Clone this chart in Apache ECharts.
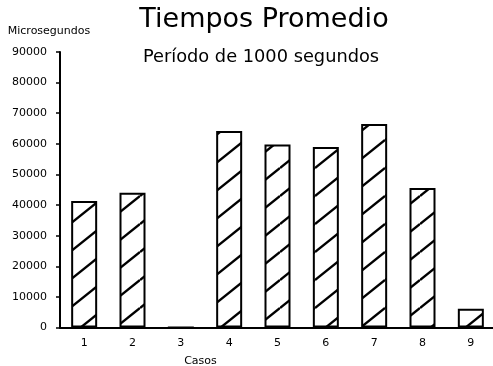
<!DOCTYPE html>
<html>
<head>
<meta charset="utf-8">
<script src="https://cdn.jsdelivr.net/npm/echarts@6/dist/echarts.min.js"></script>
<style>
html,body{margin:0;padding:0;background:#fff;}
#chart{width:493px;height:366px;}
</style>
</head>
<body>
<div id="chart"></div>
<script>
// ---- data ----
var categories = ['1', '2', '3', '4', '5', '6', '7', '8', '9'];
var tiempos = [41300, 44000, 0, 64200, 59800, 59000, 66500, 45600, 6100];
var yTicks = [0, 10000, 20000, 30000, 40000, 50000, 60000, 70000, 80000, 90000];
var titleText = 'Tiempos Promedio';
var subtitleText = 'Período de 1000 segundos';
var yName = 'Microsegundos';
var xName = 'Casos';

// hatch tile
function makeHatch() {
  var W = 35, H = 28;
  var c = document.createElement('canvas');
  c.width = W; c.height = H;
  var ctx = c.getContext('2d');
  ctx.fillStyle = '#fff';
  ctx.fillRect(0, 0, W, H);
  ctx.strokeStyle = '#000';
  ctx.lineWidth = 2.4;
  [-H, 0, H].forEach(function (off) {
    ctx.beginPath();
    ctx.moveTo(0, H + off);
    ctx.lineTo(W, 0 + off);
    ctx.stroke();
  });
  return c;
}

var font = 'DejaVu Sans';
var chart = echarts.init(document.getElementById('chart'), null, {renderer: 'canvas'});
chart.setOption({
  backgroundColor: '#fff',
  animation: false,
  title: [
    {text: titleText, left: 259, top: 1, textAlign: 'center',
     textStyle: {fontFamily: font, fontSize: 27, fontWeight: 'normal', color: '#000'}},
    {text: subtitleText, left: 256, top: 43, textAlign: 'center',
     textStyle: {fontFamily: font, fontSize: 17.8, fontWeight: 'normal', color: '#000'}}
  ],
  grid: {left: 60, top: 52, width: 435, height: 275.5, containLabel: false, outerBoundsMode: 'none'},
  xAxis: {
    type: 'category',
    data: categories,
    name: xName,
    nameLocation: 'middle',
    nameGap: 28,
    nameTextStyle: {fontFamily: font, fontSize: 11, color: '#000', padding: [0, 154, 0, 0]},
    axisLine: {lineStyle: {color: '#000', width: 2}},
    axisTick: {alignWithLabel: true, length: 4, lineStyle: {color: '#000', width: 1.5}},
    axisLabel: {fontFamily: font, fontSize: 11, color: '#000', margin: 10}
  },
  yAxis: {
    type: 'value',
    min: 0,
    max: yTicks[yTicks.length - 1],
    interval: yTicks[1] - yTicks[0],
    name: yName,
    nameLocation: 'end',
    nameGap: 15,
    nameTextStyle: {fontFamily: font, fontSize: 11, color: '#000', align: 'center', padding: [0, 22, 0, 0]},
    splitLine: {show: false},
    axisLine: {show: true, lineStyle: {color: '#000', width: 2}},
    axisTick: {show: true, length: 4, lineStyle: {color: '#000', width: 1.5}},
    axisLabel: {fontFamily: font, fontSize: 11, color: '#000', margin: 13,
      formatter: function (v) { return String(v); }}
  },
  series: [{
    type: 'bar',
    data: tiempos,
    barWidth: 26,
    itemStyle: {
      color: {image: makeHatch(), repeat: 'repeat'},
      borderColor: '#000',
      borderWidth: 2
    }
  }]
});
</script>
</body>
</html>
